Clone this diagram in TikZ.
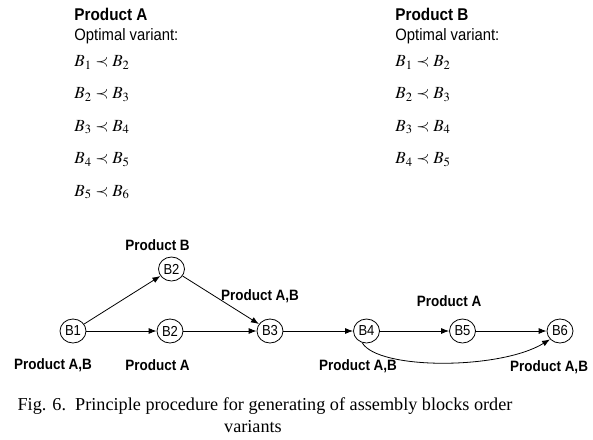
\documentclass[tikz,border=0pt]{standalone}
\usepackage{mathptmx}
\usepackage{fontspec}
\setmainfont{Liberation Serif}
\newfontfamily\narrowsans[FakeStretch=0.9]{Liberation Sans}
\usetikzlibrary{shapes.geometric,arrows.meta}

\begin{document}
\begin{tikzpicture}[x=1pt,y=-1pt,->,>={Latex[length=8pt,width=6pt]},line width=0.8pt,
	blocknode/.style={ellipse,draw,minimum width=26pt,minimum height=24pt,inner sep=0pt,font=\narrowsans\fontsize{14.5}{14.5}\selectfont},
	prodnode/.style={inner sep=0pt,font=\narrowsans\bfseries\fontsize{15}{15}\selectfont},
	headnode/.style={anchor=base west,inner sep=0pt,font=\narrowsans\bfseries\fontsize{17}{17}\selectfont},
	variantnode/.style={anchor=base west,inner sep=0pt,font=\narrowsans\fontsize{16.5}{16.5}\selectfont},
	ordernode/.style={anchor=base west,inner sep=0pt,font=\fontsize{17}{17}\selectfont},
	captnode/.style={anchor=base,inner sep=0pt,font=\fontsize{18.2}{20}\selectfont}]
	
	\useasboundingbox (0,0) rectangle (593,439);
	
	% product A
	\node [headnode] (ha) at (74, 20.5) {Product A};
	\node [variantnode] (va) at (74, 40.7) {Optimal variant:};
	\node [ordernode] (a1) at (74, 66.5) {$B_1 \prec B_2$};
	\node [ordernode] (a2) at (74, 98.9) {$B_2 \prec B_3$};
	\node [ordernode] (a3) at (74, 131.3) {$B_3 \prec B_4$};
	\node [ordernode] (a4) at (74, 163.7) {$B_4 \prec B_5$};
	\node [ordernode] (a5) at (74, 196.1) {$B_5 \prec B_6$};
	
	% product B
	\node [headnode] (hb) at (395, 20.5) {Product B};
	\node [variantnode] (vb) at (395, 40.7) {Optimal variant:};
	\node [ordernode] (b1) at (395, 66.5) {$B_1 \prec B_2$};
	\node [ordernode] (b2) at (395, 98.9) {$B_2 \prec B_3$};
	\node [ordernode] (b3) at (395, 131.3) {$B_3 \prec B_4$};
	\node [ordernode] (b4) at (395, 163.7) {$B_4 \prec B_5$};
	
	% blocks
	\node [blocknode] (n1) at (73, 331) {B1};
	\node [blocknode] (n2b) at (171.5, 269) {B2};
	\node [blocknode] (n2a) at (170, 331) {B2};
	\node [blocknode] (n3) at (270, 331) {B3};
	\node [blocknode] (n4) at (366.5, 331) {B4};
	\node [blocknode] (n5) at (462.5, 331) {B5};
	\node [blocknode] (n6) at (560, 331) {B6};
	
	\node [prodnode] (l2b) at (157.5, 245) {Product B};
	\node [prodnode] (l3) at (260, 296) {Product A,B};
	\node [prodnode] (l1) at (53, 365) {Product A,B};
	\node [prodnode] (l2a) at (157.5, 365) {Product A};
	\node [prodnode] (l4) at (358, 366) {Product A,B};
	\node [prodnode] (l5) at (449, 301) {Product A};
	\node [prodnode] (l6) at (549, 367) {Product A,B};
	
	\draw (n1) to (n2b);
	\draw (n1) to (n2a);
	\draw (n2b) to (n3);
	\draw (n2a) to (n3);
	\draw (n3) to (n4);
	\draw (n4) to (n5);
	\draw (n5) to (n6);
	\draw (n4.250) .. controls (378, 370) and (500, 370) .. (n6.220);
	
	\node [captnode] (c1) at (265, 410) {Fig. 6.\ \ Principle procedure for generating of assembly blocks order};
	\node [captnode] (c2) at (253, 432) {variants};
\end{tikzpicture}
\end{document}
